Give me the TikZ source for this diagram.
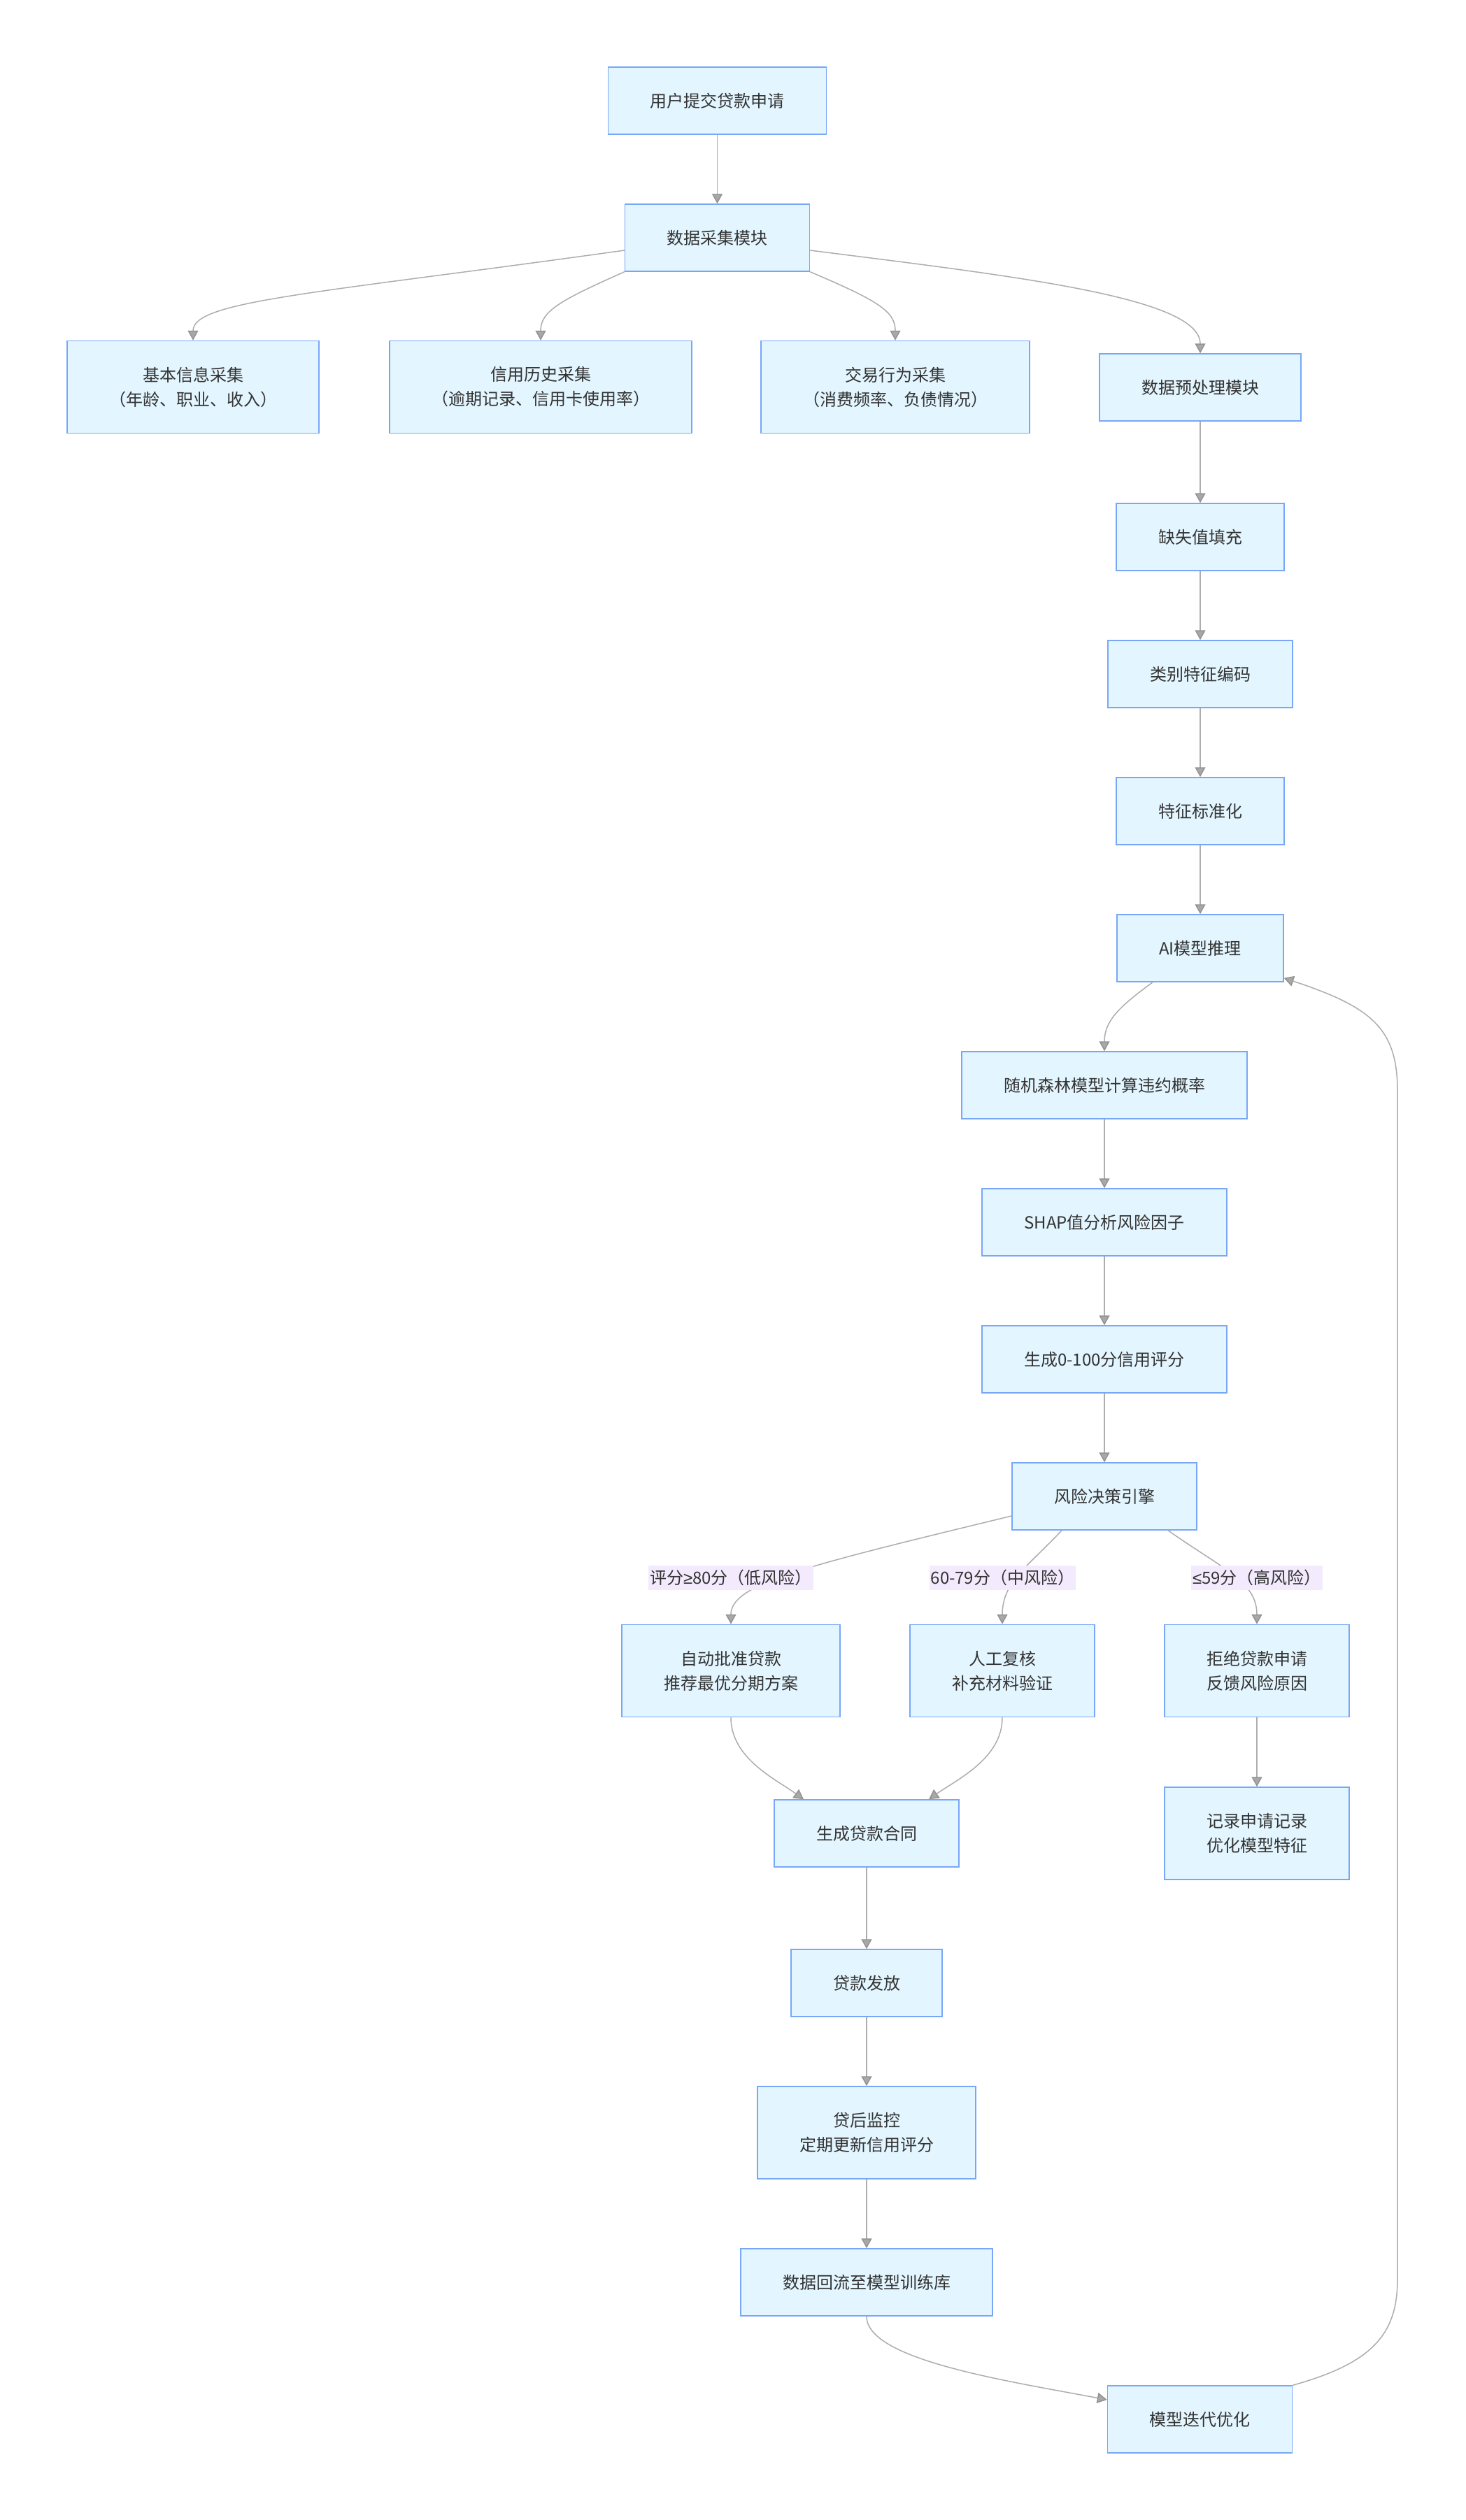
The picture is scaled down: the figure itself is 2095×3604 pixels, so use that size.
\documentclass[tikz,border=0pt]{standalone}
\usepackage{fontspec}
\setmainfont{Noto Sans CJK SC}
\newfontfamily\mathsym{Liberation Sans}
\usetikzlibrary{arrows.meta}
\definecolor{boxfill}{HTML}{E3F5FE}
\definecolor{boxline}{HTML}{78A7F8}
\definecolor{edgeline}{HTML}{ADADAD}
\definecolor{tipfill}{HTML}{A8A8A8}
\definecolor{tipline}{HTML}{939393}
\definecolor{lblfill}{HTML}{F3EBFD}
\definecolor{txt}{HTML}{333333}
\begin{document}
\begin{tikzpicture}[x=0.5pt,y=-0.5pt,
    box/.style={draw=boxline,fill=boxfill,line width=0.75pt,text=txt,
      font=\fontsize{12}{17.5}\selectfont,minimum height=48pt,inner xsep=30pt,align=center},
    tall/.style={box,minimum height=66pt},
    lbl/.style={fill=lblfill,text=txt,font=\fontsize{12}{17.5}\selectfont,
      inner xsep=1pt,inner ysep=0pt,minimum height=17.5pt},
    edge/.style={draw=edgeline,line width=0.75pt,
      -{Triangle[length=7pt,width=7.5pt,fill=tipfill,color=tipline]}}]
      \path[fill=white,use as bounding box] (0,0) rectangle (2095,3604);

      \node[box] (user) at (1025.5,144) {用户提交贷款申请};
      \node[box] (collect) at (1025.5,340) {数据采集模块};
      \node[tall] (basic) at (276,553.5) {基本信息采集\\（年龄、职业、收入）};
      \node[tall] (credit) at (773,553.5) {信用历史采集\\（逾期记录、信用卡使用率）};
      \node[tall] (trade) at (1280,553.5) {交易行为采集\\（消费频率、负债情况）};
      \node[box] (prep) at (1716,554) {数据预处理模块};
      \node[box] (missing) at (1716,768) {缺失值填充};
      \node[box] (encode) at (1716,964) {类别特征编码};
      \node[box] (scale) at (1716,1160) {特征标准化};
      \node[box] (ai) at (1716,1356) {AI模型推理};
      \node[box] (forest) at (1579,1552) {随机森林模型计算违约概率};
      \node[box] (shap) at (1579,1748) {SHAP值分析风险因子};
      \node[box] (score) at (1579,1944) {生成0-100分信用评分};
      \node[box] (decide) at (1579,2140) {风险决策引擎};
      \node[tall] (approve) at (1045,2389.5) {自动批准贷款\\推荐最优分期方案};
      \node[tall] (review) at (1433,2389.5) {人工复核\\补充材料验证};
      \node[tall] (reject) at (1797,2389.5) {拒绝贷款申请\\反馈风险原因};
      \node[box] (contract) at (1239,2622) {生成贷款合同};
      \node[tall] (record) at (1797,2622) {记录申请记录\\优化模型特征};
      \node[box] (issue) at (1239,2836) {贷款发放};
      \node[tall] (monitor) at (1239,3050) {贷后监控\\定期更新信用评分};
      \node[box] (feedback) at (1239,3264) {数据回流至模型训练库};
      \node[box] (iterate) at (1715.5,3460) {模型迭代优化};

      \draw[edge] (user) -- (collect);
      \draw[edge] ([yshift=-9pt]collect.west) .. controls (450,420) and (276,430) .. (basic.north);
      \draw[edge] (collect.south west) .. controls (800,430) and (773,445) .. (credit.north);
      \draw[edge] (collect.south east) .. controls (1255,430) and (1280,445) .. (trade.north);
      \draw[edge] ([yshift=-9pt]collect.east) .. controls (1450,395) and (1716,425) .. (prep.north);
      \draw[edge] (prep) -- (missing);
      \draw[edge] (missing) -- (encode);
      \draw[edge] (encode) -- (scale);
      \draw[edge] (scale) -- (ai);
      \draw[edge] ([xshift=-34pt]ai.south) .. controls (1600,1440) and (1579,1460) .. (forest.north);
      \draw[edge] (forest) -- (shap);
      \draw[edge] (shap) -- (score);
      \draw[edge] (score) -- (decide);
      \draw[edge] ([yshift=-14pt]decide.west) .. controls (1150,2240) and (1045,2265) .. (approve.north);
      \draw[edge] ([xshift=-30.5pt]decide.south) .. controls (1470,2240) and (1433,2262) .. (review.north);
      \draw[edge] ([xshift=45.5pt]decide.south) .. controls (1750,2245) and (1797,2262) .. (reject.north);
      \draw[edge] (approve.south) .. controls (1045,2515) and (1110,2545) .. ([xshift=-45pt]contract.north);
      \draw[edge] (review.south) .. controls (1433,2515) and (1368,2545) .. ([xshift=44.5pt]contract.north);
      \draw[edge] (reject) -- (record);
      \draw[edge] (contract) -- (issue);
      \draw[edge] (issue) -- (monitor);
      \draw[edge] (monitor) -- (feedback);
      \draw[edge] (feedback.south) .. controls (1239,3375) and (1440,3405) .. ([yshift=14pt]iterate.west);
      \draw[edge] (iterate.north east) .. controls (1960,3380) and (1998,3340) .. (1998,3260)
        -- (1998,1560) .. controls (1998,1470) and (1960,1440) .. ([yshift=3pt]ai.south east);

      \node[lbl] (low) at (1045,2256) {评分{\mathsym ≥}80分（低风险）};
      \node[lbl] (mid) at (1433.5,2256) {60-79分（中风险）};
      \node[lbl] (high) at (1797,2256) {{\mathsym ≤}59分（高风险）};
\end{tikzpicture}
\end{document}
